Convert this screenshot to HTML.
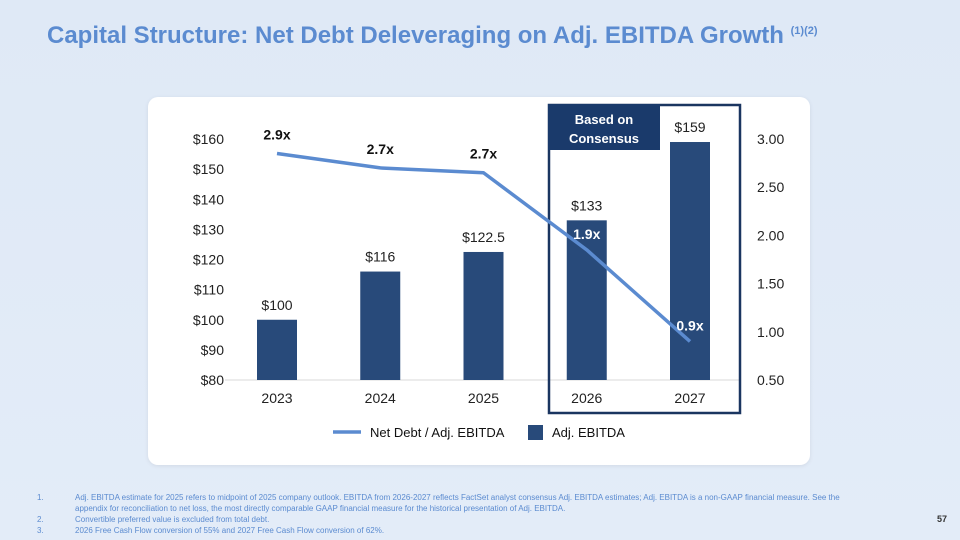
<!DOCTYPE html>
<html><head><meta charset="utf-8"><style>
body{margin:0;width:960px;height:540px;overflow:hidden;background:linear-gradient(180deg,#dfe9f6,#e3ecf8);font-family:"Liberation Sans",sans-serif;position:relative}
.t{position:absolute}
</style></head><body>
<div class="t" style="left:47px;top:22px;font-size:24px;font-weight:bold;color:#5b8bd0;white-space:nowrap">Capital Structure: Net Debt Deleveraging on Adj. EBITDA Growth <sup style="font-size:11px;vertical-align:9px">(1)(2)</sup></div>
<div class="t" style="left:148px;top:97px;width:662px;height:368px;background:#fff;border-radius:10px;box-shadow:0 1px 4px rgba(0,0,0,0.08)"></div>
<svg class="t" style="left:0;top:0" width="960" height="540" id="svg"></svg>
<div class="t" style="left:0;top:492px;font-size:8px;color:#5b8bd0;line-height:11px">
<div style="position:absolute;left:37px;top:0">1.</div><div style="position:absolute;left:75px;top:0;width:780px">Adj. EBITDA estimate for 2025 refers to midpoint of 2025 company outlook. EBITDA from 2026-2027 reflects FactSet analyst consensus Adj. EBITDA estimates; Adj. EBITDA is a non-GAAP financial measure. See the appendix for reconciliation to net loss, the most directly comparable GAAP financial measure for the historical presentation of Adj. EBITDA.</div>
<div style="position:absolute;left:37px;top:22px">2.</div><div style="position:absolute;left:75px;top:22px;white-space:nowrap">Convertible preferred value is excluded from total debt.</div>
<div style="position:absolute;left:37px;top:33px">3.</div><div style="position:absolute;left:75px;top:33px;white-space:nowrap">2026 Free Cash Flow conversion of 55% and 2027 Free Cash Flow conversion of 62%.</div>
</div>
<div class="t" style="left:937px;top:514px;font-size:9px;font-weight:bold;color:#333">57</div>
<script>
const categories=["2023","2024","2025","2026","2027"];
const ebitda=[100,116,122.5,133,159];
const ebitdaLabels=["$100","$116","$122.5","$133","$159"];
const leverage=[2.85,2.70,2.65,1.85,0.9];
const leverageLabels=["2.9x","2.7x","2.7x","1.9x","0.9x"];
const leftTicks=[80,90,100,110,120,130,140,150,160];
const rightTicks=[0.5,1.0,1.5,2.0,2.5,3.0];
const NS="http://www.w3.org/2000/svg";
const svg=document.getElementById('svg');
const yL=v=>380-(v-80)*241/80;
const yR=v=>380-(v-0.5)*241/2.5;
const xC=i=>277+i*103.25;
function mk(t,a,txt){const e=document.createElementNS(NS,t);for(const k in a)e.setAttribute(k,a[k]);if(txt!=null)e.textContent=txt;svg.appendChild(e);return e;}
const F='"Liberation Sans",sans-serif';
let e=mk('line',{x1:225,x2:741,y1:380,y2:380,stroke:'#d9d9d9','stroke-width':1});

leftTicks.forEach(v=>{const t=mk('text',{x:224,y:yL(v)+5,'text-anchor':'end','font-size':14,fill:'#222','font-family':F},'$'+v);
});
rightTicks.forEach(v=>{const t=mk('text',{x:757,y:yR(v)+5,'font-size':14,fill:'#222','font-family':F},v.toFixed(2));
});
categories.forEach((c,i)=>{
const b=mk('rect',{x:xC(i)-20,y:yL(ebitda[i]),width:40,height:380-yL(ebitda[i]),fill:'#284a7a'});

const l=mk('text',{x:xC(i),y:yL(ebitda[i])-10,'text-anchor':'middle','font-size':14,fill:'#222','font-family':F},ebitdaLabels[i]);

const x=mk('text',{x:xC(i),y:403,'text-anchor':'middle','font-size':14,fill:'#222','font-family':F},c);

});
const hb=mk('rect',{x:549,y:105,width:191,height:308,fill:'none',stroke:'#1a3560','stroke-width':2.5});

const cb=mk('rect',{x:548,y:104,width:112,height:46,fill:'#1a3a6b'});

let t1=mk('text',{x:604,y:124,'text-anchor':'middle','font-size':13,'font-weight':'bold',fill:'#fff','font-family':F},'Based on');

let t2=mk('text',{x:604,y:143,'text-anchor':'middle','font-size':13,'font-weight':'bold',fill:'#fff','font-family':F},'Consensus');

const pts=leverage.map((v,i)=>xC(i)+','+yR(v)).join(' ');
const pl=mk('polyline',{points:pts,fill:'none',stroke:'#5b8bd0','stroke-width':3.5,'stroke-linejoin':'round'});

const offs=[-14,-14,-14,-14,-14];
leverage.forEach((v,i)=>{const white=i>=3;
const l=mk('text',{x:xC(i)-(i===0?0:0),y:yR(v)+offs[i]+(white?3:0),'text-anchor':'middle','font-size':14,'font-weight':'bold',fill:white?'#fff':'#111','font-family':F},leverageLabels[i]);
});
const lg1=mk('line',{x1:333,x2:361,y1:432,y2:432,stroke:'#5b8bd0','stroke-width':3.5});

const lt1=mk('text',{x:370,y:437,'font-size':13,fill:'#111','font-family':F},'Net Debt / Adj. EBITDA');

const lg2=mk('rect',{x:528,y:425,width:15,height:15,fill:'#284a7a'});

const lt2=mk('text',{x:552,y:437,'font-size':13,fill:'#111','font-family':F},'Adj. EBITDA');

</script>
</body></html>
